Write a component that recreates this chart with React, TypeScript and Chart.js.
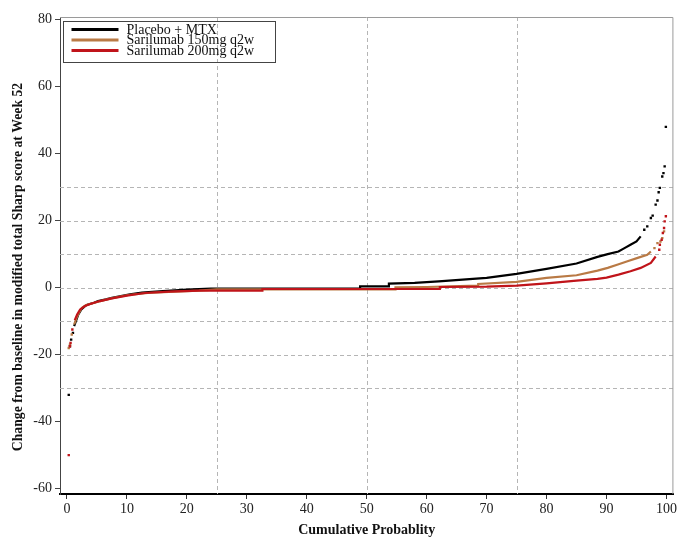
import React, { useEffect, useRef } from "react";
import { Chart, registerables } from "chart.js";

Chart.register(...registerables);

const seriesLabels = ["Placebo + MTX", "Sarilumab 150mg q2w", "Sarilumab 200mg q2w"];
const seriesColors = ["#000000", "#b97a45", "#c0141a"];
const xTitle = "Cumulative Probablity";
const yTitle = "Change from baseline in modified total Sharp score at Week 52";

const xTicks = [0, 10, 20, 30, 40, 50, 60, 70, 80, 90, 100];
const yTicks = [-60, -40, -20, 0, 20, 40, 60, 80];
const refY = [-30, -20, -10, 0, 10, 20, 30];
const refX = [25, 50, 75];

// Placebo + MTX
const placeboBodyX = [1.2, 1.6, 1.9, 2.4, 3.0, 3.5, 4.5, 5.2, 6.5, 7.5, 9.0, 10.5, 12.5, 16, 20, 24, 48.9, 48.9, 53.7, 53.7, 58, 62, 66, 70, 75, 80, 85, 88.5, 90.2, 92, 93, 94, 95, 95.7];
const placeboBodyY = [-11.5, -9.5, -8, -6.5, -5.5, -5, -4.5, -4, -3.5, -3, -2.5, -2, -1.5, -1, -0.6, -0.3, -0.3, 0.4, 0.4, 1.2, 1.4, 1.9, 2.4, 2.9, 4.1, 5.6, 7.2, 9.2, 10, 10.8, 11.8, 12.8, 13.8, 15.3];
const placeboDotX = [0.3, 0.5, 0.7, 1.0, 96.3, 96.8, 97.4, 97.7, 98.2, 98.5, 98.7, 98.9, 99.3, 99.5, 99.7, 99.9];
const placeboDotY = [-32, -17.5, -15.5, -13.5, 17.3, 18.3, 20.8, 21.5, 24.8, 26, 28.5, 29.8, 33.2, 34.2, 36.2, 48];

// Sarilumab 150mg q2w
const s150BodyX = [1.2, 1.6, 2.0, 2.5, 3.2, 4.0, 5.2, 7.4, 10.2, 13.5, 17, 22, 25, 54.8, 54.8, 60, 64, 68.6, 68.6, 75, 80, 85, 88.5, 90.2, 91.9, 93.5, 95.2, 96.8, 97.4];
const s150BodyY = [-11, -9, -7.5, -6, -5.2, -4.8, -4.2, -3.2, -2.2, -1.6, -1.3, -0.9, -0.5, -0.5, 0.1, 0.2, 0.4, 0.6, 1.1, 1.7, 2.9, 3.7, 5.1, 5.9, 6.9, 7.9, 8.9, 9.8, 10.8];
const s150DotX = [0.3, 0.5, 0.8, 98.0, 98.5, 99.0, 99.3, 99.6];
const s150DotY = [-18, -17, -14, 11.8, 13.3, 13.8, 14.8, 16.8];

// Sarilumab 200mg q2w
const s200BodyX = [1.3, 1.7, 2.2, 3.0, 4.0, 5.5, 7.5, 10, 13, 17, 22, 32.6, 32.6, 62.2, 62.2, 70, 75, 80, 85, 88.5, 90, 92, 94, 95.7, 97.4, 98.2];
const s200BodyY = [-9.7, -8, -6.5, -5.5, -4.8, -4, -3.2, -2.4, -1.6, -1.2, -0.9, -0.9, -0.4, -0.4, 0.2, 0.3, 0.6, 1.3, 2.1, 2.6, 3.0, 3.9, 4.9, 5.9, 7.4, 9.3];
const s200DotX = [0.3, 0.5, 0.6, 0.9, 98.8, 98.9, 99.2, 99.4, 99.6, 99.7, 99.9];
const s200DotY = [-50, -17.5, -16.5, -12.5, 11.3, 12.8, 14.3, 16.3, 17.8, 19.8, 21.3];

const bodies = [
  [placeboBodyX, placeboBodyY],
  [s150BodyX, s150BodyY],
  [s200BodyX, s200BodyY],
];
const dots = [
  [placeboDotX, placeboDotY],
  [s150DotX, s150DotY],
  [s200DotX, s200DotY],
];

const FONT = "'Liberation Serif', 'Times New Roman', serif";

const zip = (xs: number[], ys: number[]) => xs.map((x, i) => ({ x, y: ys[i] }));

const refLinesPlugin = {
  id: "refLines",
  beforeDatasetsDraw(chart: any) {
    const { ctx, chartArea, scales } = chart;
    ctx.save();
    ctx.strokeStyle = "#b5b5b5";
    ctx.lineWidth = 1;
    ctx.setLineDash([4, 3]);
    refY.forEach((v) => {
      const y = Math.round(scales.y.getPixelForValue(v)) + 0.5;
      ctx.beginPath();
      ctx.moveTo(chartArea.left, y);
      ctx.lineTo(chartArea.right, y);
      ctx.stroke();
    });
    refX.forEach((v) => {
      const x = Math.round(scales.x.getPixelForValue(v)) + 0.5;
      ctx.beginPath();
      ctx.moveTo(x, chartArea.top);
      ctx.lineTo(x, chartArea.bottom);
      ctx.stroke();
    });
    ctx.restore();
  },
  afterDraw(chart: any) {
    const { ctx, chartArea } = chart;
    ctx.save();
    ctx.strokeStyle = "#9a9a9a";
    ctx.lineWidth = 1;
    ctx.beginPath();
    ctx.moveTo(chartArea.left, chartArea.top + 0.5);
    ctx.lineTo(chartArea.right - 0.5, chartArea.top + 0.5);
    ctx.lineTo(chartArea.right - 0.5, chartArea.bottom);
    ctx.stroke();
    // y title
    ctx.save();
    ctx.translate(18, 267);
    ctx.rotate(-Math.PI / 2);
    ctx.font = `bold 13.7px ${FONT}`;
    ctx.fillStyle = "#111";
    ctx.textAlign = "center";
    ctx.textBaseline = "middle";
    ctx.fillText(yTitle, 0, 0);
    ctx.restore();
    // legend
    const bx = chartArea.left + 3.5;
    const by = chartArea.top + 4.5;
    ctx.strokeStyle = "#444";
    ctx.strokeRect(bx, by, 212, 41);
    ctx.font = `14px ${FONT}`;
    ctx.textBaseline = "middle";
    ctx.textAlign = "left";
    seriesLabels.forEach((lab, i) => {
      const y = by + 8 + i * 10.5;
      ctx.strokeStyle = seriesColors[i];
      ctx.lineWidth = 3;
      ctx.beginPath();
      ctx.moveTo(bx + 8, y);
      ctx.lineTo(bx + 55, y);
      ctx.stroke();
      ctx.fillStyle = "#111";
      ctx.fillText(lab, bx + 63, y + 0.5);
    });
    ctx.restore();
  },
};

export default function App() {
  const ref = useRef<HTMLCanvasElement>(null);
  useEffect(() => {
    if (!ref.current) return;
    const datasets: any[] = [];
    bodies.forEach(([xs, ys], i) => {
      datasets.push({
        type: "scatter",
        label: seriesLabels[i],
        data: zip(xs, ys),
        showLine: true,
        borderColor: seriesColors[i],
        backgroundColor: seriesColors[i],
        borderWidth: 2.2,
        pointRadius: 0,
        order: 2 - i,
      });
      datasets.push({
        type: "scatter",
        label: seriesLabels[i] + " tail",
        data: zip(dots[i][0], dots[i][1]),
        showLine: false,
        borderColor: seriesColors[i],
        backgroundColor: seriesColors[i],
        pointStyle: "rect",
        pointRadius: 1.7,
        borderWidth: 0,
        order: 2 - i,
      });
    });
    const chart = new Chart(ref.current, {
      type: "scatter",
      data: { datasets },
      options: {
        animation: false,
        responsive: false,
        layout: { padding: { top: 17, right: 3, left: 0, bottom: 0 } },
        plugins: { legend: { display: false }, tooltip: { enabled: false } },
        scales: {
          x: {
            type: "linear",
            min: -1.16,
            max: 101.16,
            afterBuildTicks: (s: any) => {
              s.ticks = xTicks.map((v) => ({ value: v }));
            },
            afterFit: (s: any) => {
              s.height = 43;
            },
            ticks: { color: "#222", font: { family: FONT, size: 14 }, padding: 2, maxRotation: 0 },
            grid: { display: true, drawOnChartArea: false, drawTicks: true, tickLength: 5, color: "#333" },
            border: { display: true, color: "#000", width: 2 },
            title: {
              display: true,
              text: xTitle,
              color: "#111",
              font: { family: FONT, size: 14, weight: "bold" },
              padding: { top: 0, bottom: -2 },
            },
          },
          y: {
            type: "linear",
            min: -61.6,
            max: 80.8,
            afterBuildTicks: (s: any) => {
              s.ticks = yTicks.map((v) => ({ value: v }));
            },
            afterFit: (s: any) => {
              s.width = 60;
            },
            ticks: { color: "#222", font: { family: FONT, size: 14 }, padding: 3 },
            grid: { display: true, drawOnChartArea: false, drawTicks: true, tickLength: 5, color: "#444" },
            border: { display: true, color: "#444", width: 1 },
            title: { display: false },
          },
        },
      },
      plugins: [refLinesPlugin],
    } as any);
    return () => chart.destroy();
  }, []);
  return (
    <div style={{ position: "fixed", left: 0, top: 0, width: 679, height: 537, background: "#fff" }}>
      <canvas ref={ref} width={679} height={537} style={{ display: "block" }} />
    </div>
  );
}
